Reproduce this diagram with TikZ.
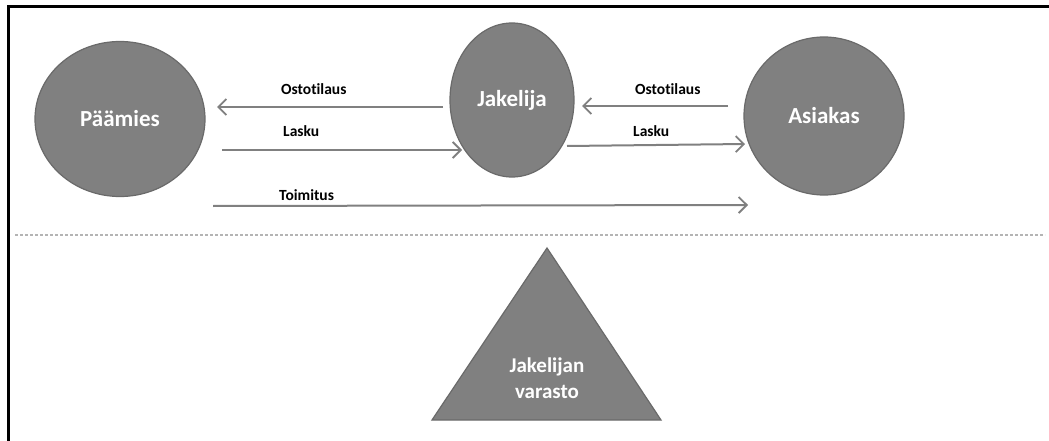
\documentclass[tikz,border=0pt]{standalone}
\usepackage{fontspec}
\setmainfont{Carlito}[Ligatures=NoCommon]
\usetikzlibrary{shapes.geometric,arrows.meta}
\definecolor{shapefill}{HTML}{808080}
\definecolor{shapeline}{HTML}{6A6A6A}
\definecolor{arrowgray}{HTML}{808080}
\definecolor{dashgray}{HTML}{B4B4B4}
\tikzset{
  actor/.style={ellipse, draw=shapeline, line width=1.2pt, fill=shapefill, inner sep=0pt,
    text=white, font=\fontsize{23}{25}\selectfont\bfseries},
  flow/.style={draw=arrowgray, line width=2pt, -{Straight Barb[length=8pt,width=16pt,line width=1.8pt]}},
  flowlabel/.style={anchor=base west, inner sep=0pt, font=\fontsize{15.5}{17}\selectfont\bfseries, text=black},
}
\begin{document}
\begin{tikzpicture}[x=1pt,y=-1pt]
\useasboundingbox (0,0) rectangle (1049,441);
\fill[white] (0,0) rectangle (1049,441);
% frame
\draw[black, line width=3pt] (8,441) -- (8,7) -- (1049,7);

% actors
\node[actor, minimum width=170pt, minimum height=155pt] (paamies) at (120,119) {Päämies};
\node[actor, minimum width=124pt, minimum height=154pt] (jakelija) at (512,100) {Jakelija};
\node[actor, minimum width=160pt, minimum height=158pt] (asiakas) at (824,116) {Asiakas};

% connector end points
\coordinate (o1s) at (443,107);
\coordinate (o1e) at (217,107);
\coordinate (l1s) at (222,150);
\coordinate (l1e) at (462,150);
\coordinate (o2s) at (728,106);
\coordinate (o2e) at (582,106);
\coordinate (l2s) at (567,146);
\coordinate (l2e) at (745,144);
\coordinate (ts) at (213,206);
\coordinate (te) at (748,205);

\draw[flow] (o1s) -- (o1e);
\draw[flow] (l1s) -- (l1e);
\draw[flow] (o2s) -- (o2e);
\draw[flow] (l2s) -- (l2e);
\draw[flow] (ts) -- (te);

\node[flowlabel] (lo1) at (281,95) {Ostotilaus};
\node[flowlabel] (ll1) at (283,137) {Lasku};
\node[flowlabel] (lo2) at (635,95) {Ostotilaus};
\node[flowlabel] (ll2) at (633,137) {Lasku};
\node[flowlabel] (lt) at (279,200) {Toimitus};

% dashed separator
\coordinate (dl) at (15,235);
\coordinate (dr) at (1045,235);
\draw[dashgray, line width=1.5pt, dash pattern=on 3pt off 2pt] (dl) -- (dr);

% warehouse triangle
\coordinate (tapex) at (547,248);
\coordinate (tbl) at (432,420);
\coordinate (tbr) at (661,420);
\draw[shapeline, line width=1.2pt, fill=shapefill] (tapex) -- (tbl) -- (tbr) -- cycle;
\node[text=white, align=center, font=\fontsize{21}{26}\selectfont\bfseries] (varasto) at (547,378) {Jakelijan\\varasto};
\end{tikzpicture}
\end{document}
